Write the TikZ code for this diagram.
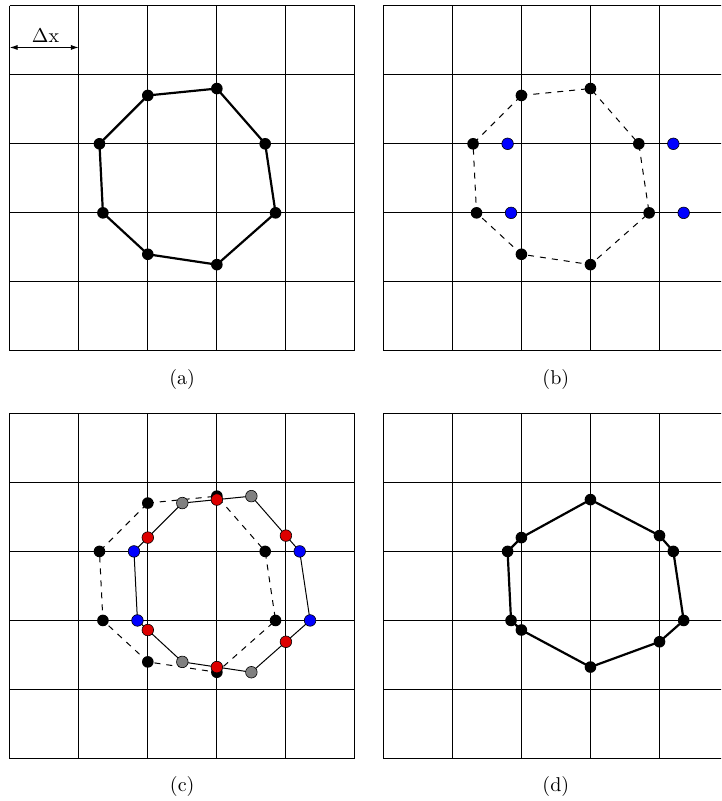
\documentclass[tikz,border=0pt]{standalone}
\usetikzlibrary{arrows.meta}
\definecolor{ptred}{RGB}{221,0,0}
\definecolor{ptblue}{RGB}{0,0,255}
\definecolor{ptgray}{RGB}{128,128,128}
\tikzset{
  gridline/.style={line width=0.5pt, black},
  thickpoly/.style={line width=1.1pt, line join=round},
  dashpoly/.style={line width=0.5pt, dash pattern=on 3pt off 3pt},
  thinpoly/.style={line width=0.5pt},
  blackdot/.style={circle, fill=black, inner sep=0pt, minimum size=5.8pt},
  colordot/.style={circle, fill=#1, draw=black, line width=0.3pt, inner sep=0pt, minimum size=5.8pt},
  caption/.style={font=\normalsize, inner sep=0pt},
  panel/.style={x=34.525pt, y=-34.525pt},
}
\newcommand\drawgridcells{%
  \foreach \i in {0,...,5}{\draw[gridline] (\i,0) -- (\i,5); \draw[gridline] (0,\i) -- (5,\i);}}
\newcommand\mkpts[1]{%
  \coordinate (#1p1) at (2,1.3);
  \coordinate (#1p2) at (3,1.2);
  \coordinate (#1p3) at (3.7,2);
  \coordinate (#1p4) at (3.85,3);
  \coordinate (#1p5) at (3,3.75);
  \coordinate (#1p6) at (2,3.6);
  \coordinate (#1p7) at (1.35,3);
  \coordinate (#1p8) at (1.3,2);
  \coordinate (#1q1) at (2.5,1.3);
  \coordinate (#1q2) at (3.5,1.2);
  \coordinate (#1q3) at (4.2,2);
  \coordinate (#1q4) at (4.35,3);
  \coordinate (#1q5) at (3.5,3.75);
  \coordinate (#1q6) at (2.5,3.6);
  \coordinate (#1q7) at (1.85,3);
  \coordinate (#1q8) at (1.8,2);
  \coordinate (#1r1) at (2,1.8);
  \coordinate (#1r2) at (3,1.25);
  \coordinate (#1r3) at (4,1.7714);
  \coordinate (#1r4) at (4,3.3088);
  \coordinate (#1r5) at (3,3.675);
  \coordinate (#1r6) at (2,3.1385);
}
\begin{document}
\begin{tikzpicture}[x=0.5pt, y=-0.5pt]
\useasboundingbox (0,0) rectangle (721,801);
\clip (0,0) rectangle (721,801);

% ---------- (a)
\begin{scope}[shift={(4.85pt,-2.85pt)}, panel]
  \drawgridcells
  \mkpts{a}
  \draw[thickpoly] (ap1) -- (ap2) -- (ap3) -- (ap4) -- (ap5) -- (ap6) -- (ap7) -- (ap8) -- cycle;
  \foreach \k in {1,...,8} \node[blackdot] (adot\k) at (ap\k) {};
  \coordinate (dxl) at (0,0.605);
  \coordinate (dxr) at (1,0.605);
  \draw[{Latex[length=4pt,width=2.6pt]}-{Latex[length=4pt,width=2.6pt]}, line width=0.5pt] (dxl) -- (dxr);
  \node[inner sep=0pt] (dxlabel) at (0.52,0.44) {$\Delta$x};
\end{scope}

% ---------- (b)
\begin{scope}[shift={(191.65pt,-2.85pt)}, panel]
  \drawgridcells
  \mkpts{b}
  \draw[dashpoly] (bp1) -- (bp2) -- (bp3) -- (bp4) -- (bp5) -- (bp6) -- (bp7) -- (bp8) -- cycle;
  \foreach \k in {1,...,8} \node[blackdot] (bdot\k) at (bp\k) {};
  \foreach \k in {3,4,7,8} \node[colordot=ptblue] (bblue\k) at (bq\k) {};
\end{scope}

% ---------- (c)
\begin{scope}[shift={(4.85pt,-206.65pt)}, panel]
  \drawgridcells
  \mkpts{c}
  \draw[dashpoly] (cp1) -- (cp2) -- (cp3) -- (cp4) -- (cp5) -- (cp6) -- (cp7) -- (cp8) -- cycle;
  \foreach \k in {1,...,8} \node[blackdot] (cdot\k) at (cp\k) {};
  \draw[thinpoly] (cq1) -- (cq2) -- (cq3) -- (cq4) -- (cq5) -- (cq6) -- (cq7) -- (cq8) -- cycle;
  \foreach \k in {1,2,5,6} \node[colordot=ptgray] (cgray\k) at (cq\k) {};
  \foreach \k in {3,4,7,8} \node[colordot=ptblue] (cblue\k) at (cq\k) {};
  \foreach \k in {1,...,6} \node[colordot=ptred] (cred\k) at (cr\k) {};
\end{scope}

% ---------- (d)
\begin{scope}[shift={(191.65pt,-206.65pt)}, panel]
  \drawgridcells
  \mkpts{d}
  \draw[thickpoly] (dr2) -- (dr3) -- (dq3) -- (dq4) -- (dr4) -- (dr5) -- (dr6) -- (dq7) -- (dq8) -- (dr1) -- cycle;
  \foreach \k in {1,...,6} \node[blackdot] (ddr\k) at (dr\k) {};
  \foreach \k in {3,4,7,8} \node[blackdot] (ddq\k) at (dq\k) {};
\end{scope}

% ---------- captions
\node[caption] (capa) at (182.2,379.5) {(a)};
\node[caption] (capb) at (555.8,379.5) {(b)};
\node[caption] (capc) at (182.2,786.8) {(c)};
\node[caption] (capd) at (555.8,786.8) {(d)};
\end{tikzpicture}
\end{document}
